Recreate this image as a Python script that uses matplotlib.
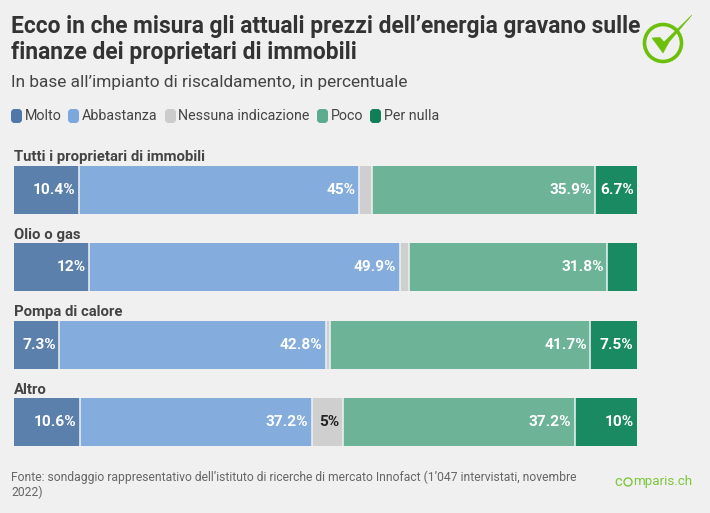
import matplotlib
matplotlib.use("Agg")
import matplotlib.pyplot as plt
from matplotlib.patches import Circle, Polygon, FancyBboxPatch

plt.rcParams['font.family'] = ['Roboto', 'DejaVu Sans']

categories = ["Tutti i proprietari di immobili", "Olio o gas", "Pompa di calore", "Altro"]
series_names = ["Molto", "Abbastanza", "Nessuna indicazione", "Poco", "Per nulla"]
molto = [10.4, 12, 7.3, 10.6]
abbastanza = [45, 49.9, 42.8, 37.2]
nessuna = [2.0, 1.5, 0.7, 5]
poco = [35.9, 31.8, 41.7, 37.2]
per_nulla = [6.7, 4.8, 7.5, 10]
labels = [
    ["10.4%", "12%", "7.3%", "10.6%"],
    ["45%", "49.9%", "42.8%", "37.2%"],
    ["", "", "", "5%"],
    ["35.9%", "31.8%", "41.7%", "37.2%"],
    ["6.7%", "", "7.5%", "10%"],
]
colors = ["#5b80ab", "#84acdc", "#cfcfcf", "#6cb398", "#1a8a63"]
legend_colors = ["#4f78a8", "#7ba7dc", "#cccccc", "#5daa8e", "#0f7f58"]
values = [molto, abbastanza, nessuna, poco, per_nulla]

W, H = 710, 513
BG = "#f0f0f0"
fig = plt.figure(figsize=(W / 100, H / 100), dpi=100, facecolor=BG)

ov = fig.add_axes([0, 0, 1, 1], facecolor="none")
ov.set_xlim(0, W)
ov.set_ylim(H, 0)
ov.axis("off")

left, right, top, bottom = 14, 637, 166, 446
ax = fig.add_axes([left / W, 1 - bottom / H, (right - left) / W, (bottom - top) / H], facecolor="none")
ypos = list(range(len(categories)))
ax.set_xlim(0, 100)
ax.set_ylim(len(categories) - 1 + 0.31, -0.31)
ax.axis("off")

totals = [sum(v[i] for v in values) for i in ypos]
lefts = [0.0] * len(categories)
for s, vals in enumerate(values):
    for i, y in enumerate(ypos):
        w = vals[i] * 100 / totals[i]
        ax.barh(y, w, left=lefts[i], height=0.62, color=colors[s], linewidth=0)
        if s > 0:
            ax.vlines(lefts[i], y - 0.31, y + 0.31, color="#eef2f6", linewidth=1.1)
        if labels[s][i]:
            ax.text(lefts[i] + w - 0.55, y, labels[s][i], ha="right", va="center",
                    fontsize=11.1, fontweight="bold",
                    color="#222222" if s == 2 else "white")
        lefts[i] += w

for name, y in zip(categories, [156.5, 234.5, 312, 389.5]):
    ov.text(14, y, name, fontsize=10.75, fontweight="bold", color="#444444", va="center", ha="left")

ov.text(11, 26, "Ecco in che misura gli attuali prezzi dell’energia gravano sulle",
        fontsize=16.35, fontweight="bold", color="#333333", va="center")
ov.text(11, 53, "finanze dei proprietari di immobili",
        fontsize=16.35, fontweight="bold", color="#333333", va="center")
ov.text(11, 83, "In base all’impianto di riscaldamento, in percentuale",
        fontsize=12.4, color="#444444", va="center")

leg_x = [11, 68, 165, 317, 370]
for name, c, x in zip(series_names, legend_colors, leg_x):
    ov.add_patch(FancyBboxPatch((x + 0.5, 109.5), 10, 13, boxstyle="round,pad=0,rounding_size=3",
                                facecolor=c, edgecolor=c, linewidth=0.7))
    ov.text(x + 14 - (1 if x == 165 else 0), 115.5, name, fontsize=10.3, color="#444444", va="center")

ov.text(11, 477, "Fonte: sondaggio rappresentativo dell’istituto di ricerche di mercato Innofact (1’047 intervistati, novembre",
        fontsize=8.75, color="#666666", va="center")
ov.text(11, 492, "2022)", fontsize=8.75, color="#666666", va="center")
ov.text(614.5, 481.5, "c", fontsize=10.6, color="#7cc63c", va="center")
ov.text(633.5, 481.5, "mparis.ch", fontsize=9.6, color="#7cc63c", va="center")
ov.add_patch(Circle((628, 482), 4, facecolor="none", edgecolor="#7cc63c", linewidth=1))

green = "#6cc00a"
ov.add_patch(Circle((663, 43), 18.5, facecolor="none", edgecolor=green, linewidth=2.6))
ov.add_patch(Polygon([(652, 38), (660, 37.5), (664, 42), (692, 15), (669, 42), (663, 53)],
                     closed=True, facecolor=green, edgecolor=green, linewidth=0.4))

fig.savefig("out.png", dpi=100, facecolor=BG)
